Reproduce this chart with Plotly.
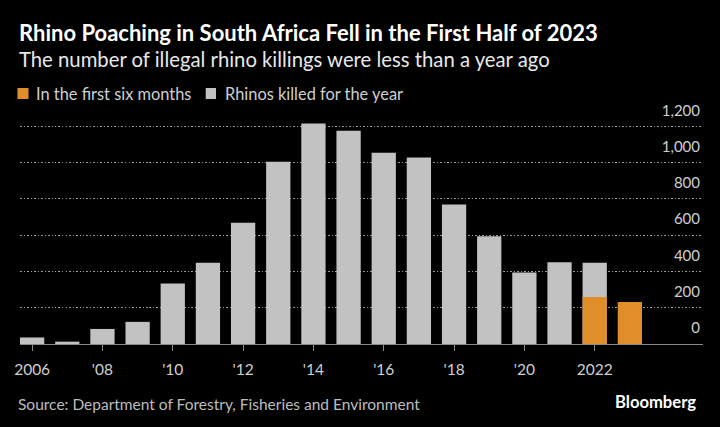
import plotly.graph_objects as go

years = list(range(2006, 2023))
killed_year = [36, 13, 83, 122, 333, 448, 668, 1004, 1215, 1175, 1054, 1028, 769, 594, 394, 451, 448]
h1_years = [2022, 2023]
h1_killed = [259, 231]
tick_years = list(range(2006, 2023, 2))
tick_text = ["2006", "'08", "'10", "'12", "'14", "'16", "'18", "'20", "2022"]
y_ticks = [0, 200, 400, 600, 800, 1000, 1200]

GRAY = "#c2c2c2"
ORANGE = "#e08e2a"
FONT = "Lato"

W, H = 720, 427
YMAX = 1400
L, R, B = 20, 17, 83
T = (H - B) - YMAX * (217.3 / 1200)
ph = H - T - B

def py(p):
    return (H - B - p) / ph

fig = go.Figure()
fig.add_trace(go.Bar(x=years, y=killed_year, name="Rhinos killed for the year",
                     marker=dict(color=GRAY, line=dict(width=0)), width=0.69))
fig.add_trace(go.Bar(x=h1_years, y=h1_killed, name="In the first six months",
                     marker=dict(color=ORANGE, line=dict(width=0)), width=0.69))

fig.update_layout(
    width=W, height=H,
    margin=dict(l=L, r=R, t=T, b=B),
    paper_bgcolor="black", plot_bgcolor="black",
    barmode="overlay", showlegend=False,
    font=dict(family=FONT, color="#cfcfcf", size=15),
    xaxis=dict(range=[2005.655, 2025.08], tickvals=tick_years, ticktext=tick_text,
               showgrid=False, zeroline=False, showline=True, linecolor="#8a8a8a", linewidth=1,
               ticks="outside", ticklen=6, tickcolor="#8a8a8a", tickwidth=1, automargin=False,
               ticklabelstandoff=5, tickfont=dict(size=15.5, color="#cfcfcf")),
    yaxis=dict(range=[0, YMAX], side="right", tickvals=y_ticks, ticklabelposition="inside",
               showgrid=True, gridcolor="#9a9a9a", griddash="1.5px,2px", gridwidth=1,
               zeroline=False, showline=False, ticks="", ticklabelshift=-16, automargin=False,
               tickformat=",d", tickfont=dict(size=15, color="#cfcfcf")),
)

ann = [
    dict(text="<b>Rhino Poaching in South Africa Fell in the First Half of 2023</b>", x=0, xshift=-3.5, y=py(33),
         font=dict(size=22, color="#ffffff")),
    dict(text="The number of illegal rhino killings were less than a year ago", x=0, xshift=-3.5, y=py(60),
         font=dict(size=20.3, color="#e8e8e8")),
    dict(text="In the first six months", x=0, xshift=14, y=py(94), font=dict(size=16.4, color="#cfcfcf")),
    dict(text="Rhinos killed for the year", x=0, xshift=202.7, y=py(94), font=dict(size=16.4, color="#cfcfcf")),
    dict(text="Source: Department of Forestry, Fisheries and Environment", x=0, xshift=-4, y=py(404),
         font=dict(size=15.5, color="#bdbdbd")),
]
for a in ann:
    fig.add_annotation(xref="paper", yref="paper", xanchor="left", yanchor="middle", showarrow=False, **a)
fig.add_annotation(text="<b>Bloomberg</b>", xref="paper", yref="paper", x=1, xshift=-5, y=py(402),
                   xanchor="right", yanchor="middle", showarrow=False, font=dict(size=16.6, color="#ffffff"))

fig.add_shape(type="rect", xref="paper", yref="paper", x0=-2.5/683, x1=8.5/683,
              y0=py(99.5), y1=py(88.5), fillcolor=ORANGE, line=dict(width=0))
fig.add_shape(type="rect", xref="paper", yref="paper", x0=185.7/683, x1=196/683,
              y0=py(99.5), y1=py(88.5), fillcolor=GRAY, line=dict(width=0))

fig.write_html("out.html", config={"displayModeBar": False},
               post_script="document.body.style.margin='0';document.body.style.background='black';")
